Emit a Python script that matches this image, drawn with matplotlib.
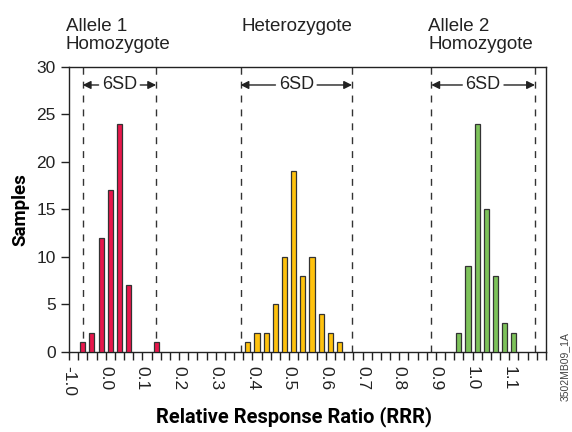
import matplotlib
matplotlib.use("Agg")
import matplotlib.pyplot as plt
import numpy as np

plt.rcParams["font.family"] = ["Liberation Sans", "DejaVu Sans"]

# ── Data (bin centres in RRR units, bins are 0.025 wide) ──
allele1_x = [-0.0625, -0.0375, -0.0125, 0.0125, 0.0375, 0.0625, 0.1375]
allele1_n = [1, 2, 12, 17, 24, 7, 1]
het_x = [0.3875, 0.4125, 0.4375, 0.4625, 0.4875, 0.5125, 0.5375, 0.5625, 0.5875, 0.6125, 0.6375]
het_n = [1, 2, 2, 5, 10, 19, 8, 10, 4, 2, 1]
allele2_x = [0.9625, 0.9875, 1.0125, 1.0375, 1.0625, 1.0875, 1.1125]
allele2_n = [2, 9, 24, 15, 8, 3, 2]

# 6SD limits (dashed lines) for each genotype cluster
sd_limits = [(-0.0625, 0.1375), (0.3675, 0.6715), (0.8875, 1.17)]
group_labels = ["Allele 1\nHomozygote", "Heterozygote", "Allele 2\nHomozygote"]

xtick_pos = [-0.1, 0.0, 0.1, 0.2, 0.3, 0.4, 0.5, 0.6, 0.7, 0.8, 0.9, 1.0, 1.1]
xtick_lab = ["-1.0", "0.0", "0.1", "0.2", "0.3", "0.4", "0.5", "0.6", "0.7", "0.8", "0.9", "1.0", "1.1"]

RED = "#e8174c"
YELLOW = "#ffc20e"
GREEN = "#7dc25a"
EDGE = "#333333"
INK = "#222222"
BOLD_FONT = ["Roboto", "Liberation Sans", "DejaVu Sans"]

fig = plt.figure(figsize=(5.72, 4.32), dpi=100)
ax = fig.add_axes([0.1206, 0.186, 0.9545 - 0.1206, 0.845 - 0.186])

bw = 0.014
for xs, ns, col in [(allele1_x, allele1_n, RED), (het_x, het_n, YELLOW), (allele2_x, allele2_n, GREEN)]:
    ax.bar(xs, ns, width=bw, color=col, edgecolor=EDGE, linewidth=0.9, zorder=3)

for lo, hi in sd_limits:
    for xv in (lo, hi):
        ax.axvline(xv, color=EDGE, lw=1.0, ls=(0, (5, 5)), zorder=2)
    mid = (lo + hi) / 2
    ax.text(mid, 28.1, "6SD", ha="center", va="center", fontsize=13, color=INK)
    for xv in (lo, hi):
        ax.annotate("", xy=(xv, 28.1), xytext=(mid, 28.1),
                    arrowprops=dict(arrowstyle="-|>", color=INK, lw=1.0,
                                    shrinkA=15, shrinkB=0, mutation_scale=12))

ax.set_xlim(-0.1, 1.2)
ax.set_ylim(0, 30)
ax.set_yticks([0, 5, 10, 15, 20, 25, 30])
ax.set_xticks(np.arange(-0.1, 1.2001, 0.025), minor=True)
ax.set_xticks(xtick_pos)
ax.set_xticklabels(xtick_lab, rotation=270, va="top", ha="center")
ax.tick_params(axis="both", which="both", direction="out", length=6, width=1, color=INK,
               labelsize=12.5, labelcolor=INK)
ax.tick_params(axis="x", pad=4)
for sp in ax.spines.values():
    sp.set_color(INK)
    sp.set_linewidth(1.0)

ax.set_ylabel("Samples", fontsize=13.5, fontweight="bold", family=BOLD_FONT, labelpad=5)
ax.set_xlabel("Relative Response Ratio (RRR)", fontsize=14.4, fontweight="bold",
              family=BOLD_FONT)
ax.xaxis.label.set_va("center")
ax.xaxis.set_label_coords(0.472, -0.228)

# cluster labels above the plot
fig.text(65.5 / 572, 1 - 18 / 432, group_labels[0], ha="left", va="top", fontsize=13.5, color=INK,
         linespacing=1.1)
fig.text(241.5 / 572, 1 - 18 / 432, group_labels[1], ha="left", va="top", fontsize=13.5, color=INK)
fig.text(428 / 572, 1 - 18 / 432, group_labels[2], ha="left", va="top", fontsize=13.5, color=INK,
         linespacing=1.1)

fig.text(565 / 572, 1 - 367 / 432, "3502MB09_1A", rotation=90, ha="center", va="center",
         fontsize=7.5, color="#444444")

fig.savefig("out.png", dpi=100, facecolor="white")
